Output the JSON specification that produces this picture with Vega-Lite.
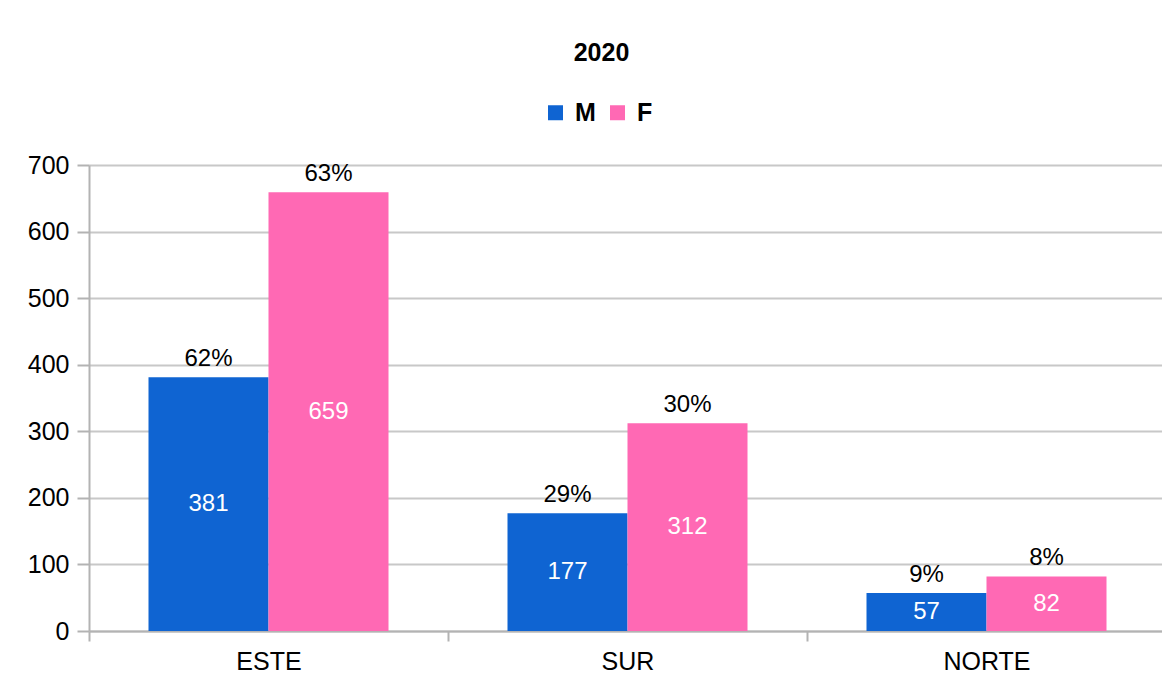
{
  "$schema": "https://vega.github.io/schema/vega-lite/v6.json",
  "width": 1073,
  "height": 466,
  "autosize": {"type": "none"},
  "padding": {"left": 89, "top": 165, "right": 0, "bottom": 54},
  "background": "white",
  "config": {"font": "Liberation Sans", "view": {"stroke": null}},
  "title": {"text": "2020", "fontSize": 25, "font": "Liberation Sans", "fontWeight": "bold", "color": "#000000", "frame": "group", "anchor": "middle", "dx": -24, "offset": 34},
  "data": {"values": [
    {"region": "ESTE", "sex": "M", "value": 381, "pct": "62%"},
    {"region": "ESTE", "sex": "F", "value": 659, "pct": "63%"},
    {"region": "SUR", "sex": "M", "value": 177, "pct": "29%"},
    {"region": "SUR", "sex": "F", "value": 312, "pct": "30%"},
    {"region": "NORTE", "sex": "M", "value": 57, "pct": "9%"},
    {"region": "NORTE", "sex": "F", "value": 82, "pct": "8%"}
  ]},
  "transform": [{"calculate": "datum.value / 2", "as": "mid"}],
  "encoding": {
    "x": {"field": "region", "type": "nominal", "sort": ["ESTE", "SUR", "NORTE"],
      "scale": {"paddingInner": 0, "paddingOuter": 0, "range": [0, 1077]},
      "axis": {"title": null, "labelAngle": 0, "tickBand": "extent", "tickSize": 10, "tickColor": "#b3b3b3", "tickWidth": 2,
        "domainColor": "#b3b3b3", "domainWidth": 2, "labelFontSize": 25, "labelColor": "#000000", "labelPadding": 8, "grid": false}},
    "xOffset": {"field": "sex", "type": "nominal", "sort": ["M", "F"], "scale": {"paddingInner": 0, "paddingOuter": 0.4958}}
  },
  "layer": [
    {
      "mark": {"type": "bar"},
      "encoding": {
        "y": {"field": "value", "type": "quantitative", "scale": {"domain": [0, 700], "nice": false},
          "axis": {"title": null, "values": [0, 100, 200, 300, 400, 500, 600, 700], "tickSize": 12, "tickColor": "#b3b3b3", "tickWidth": 2,
            "labelPadding": 8, "labelFontSize": 25, "labelColor": "#000000", "gridColor": "#c8c8c8", "gridWidth": 2,
            "domainColor": "#b3b3b3", "domainWidth": 2}},
        "color": {"field": "sex", "type": "nominal", "scale": {"domain": ["M", "F"], "range": ["#0f64d2", "#ff69b4"]},
          "legend": {"title": null, "orient": "none", "legendX": 454, "legendY": -65, "direction": "horizontal",
            "symbolType": "square", "symbolSize": 225, "symbolStrokeWidth": 0, "labelFontSize": 25, "labelFontWeight": "bold",
            "labelColor": "#000000", "columnPadding": 9, "labelOffset": 7, "padding": 0}}
      }
    },
    {
      "mark": {"type": "text", "baseline": "alphabetic", "dy": -11, "fontSize": 24, "color": "#000000"},
      "encoding": {
        "y": {"field": "value", "type": "quantitative"},
        "text": {"field": "pct"}
      }
    },
    {
      "mark": {"type": "text", "baseline": "middle", "fontSize": 24, "color": "#ffffff"},
      "encoding": {
        "y": {"field": "mid", "type": "quantitative"},
        "text": {"field": "value", "type": "quantitative"}
      }
    }
  ]
}
